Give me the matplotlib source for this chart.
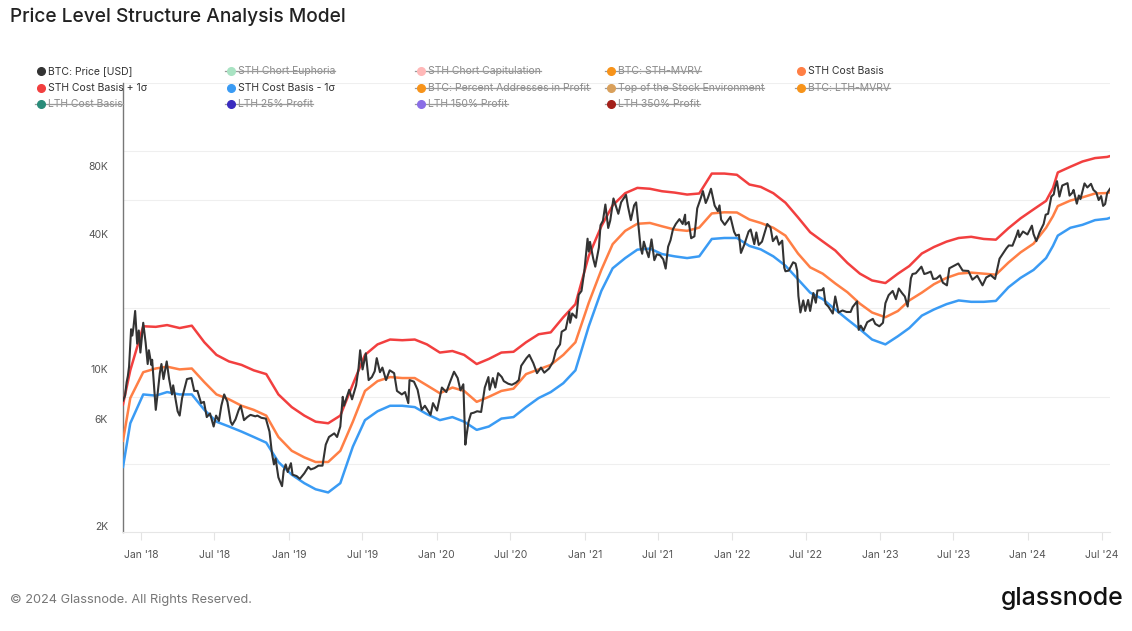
import matplotlib
matplotlib.use("Agg")
import pandas as pd
import matplotlib.pyplot as plt
import matplotlib.dates as mdates
from matplotlib.ticker import FixedLocator, NullFormatter

plt.rcParams['font.family'] = ['Inter', 'DejaVu Sans']

# BTC price
price_dates = [
    "2017-11-17", "2017-11-22", "2017-11-26", "2017-11-29", "2017-12-02", "2017-12-07", "2017-12-10",
    "2017-12-13", "2017-12-17", "2017-12-22", "2017-12-26", "2017-12-30", "2018-01-06", "2018-01-12",
    "2018-01-17", "2018-01-20", "2018-01-26", "2018-01-28", "2018-02-02", "2018-02-06", "2018-02-10",
    "2018-02-16", "2018-02-20", "2018-02-25", "2018-03-05", "2018-03-11", "2018-03-18", "2018-03-21",
    "2018-04-01", "2018-04-06", "2018-04-12", "2018-04-24", "2018-05-05", "2018-05-12", "2018-05-20",
    "2018-05-29", "2018-06-05", "2018-06-12", "2018-06-20", "2018-06-29", "2018-07-05", "2018-07-12",
    "2018-07-18", "2018-07-25", "2018-08-02", "2018-08-10", "2018-08-14", "2018-08-22", "2018-08-30",
    "2018-09-04", "2018-09-12", "2018-09-20", "2018-09-28", "2018-10-10", "2018-10-15", "2018-10-25",
    "2018-11-05", "2018-11-14", "2018-11-20", "2018-11-25", "2018-11-29", "2018-12-06", "2018-12-15",
    "2018-12-19", "2018-12-24", "2018-12-29", "2019-01-06", "2019-01-10", "2019-01-20", "2019-01-28",
    "2019-02-08", "2019-02-18", "2019-02-24", "2019-03-05", "2019-03-15", "2019-03-25", "2019-04-02",
    "2019-04-10", "2019-04-23", "2019-04-30", "2019-05-08", "2019-05-14", "2019-05-17", "2019-05-30",
    "2019-06-06", "2019-06-16", "2019-06-22", "2019-06-26", "2019-07-02", "2019-07-10", "2019-07-17",
    "2019-07-25", "2019-08-01", "2019-08-06", "2019-08-14", "2019-08-20", "2019-08-29", "2019-09-07",
    "2019-09-18", "2019-09-25", "2019-10-07", "2019-10-15", "2019-10-23", "2019-10-26", "2019-11-06",
    "2019-11-15", "2019-11-25", "2019-12-03", "2019-12-17", "2019-12-23", "2020-01-02", "2020-01-14",
    "2020-01-25", "2020-02-03", "2020-02-13", "2020-02-22", "2020-02-29", "2020-03-07", "2020-03-12",
    "2020-03-15", "2020-03-20", "2020-03-26", "2020-04-02", "2020-04-10", "2020-04-20", "2020-04-29",
    "2020-05-08", "2020-05-11", "2020-05-19", "2020-05-25", "2020-06-01", "2020-06-10", "2020-06-15",
    "2020-06-26", "2020-07-05", "2020-07-15", "2020-07-22", "2020-07-28", "2020-08-10", "2020-08-17",
    "2020-08-27", "2020-09-05", "2020-09-15", "2020-09-23", "2020-10-05", "2020-10-15", "2020-10-22",
    "2020-11-01", "2020-11-05", "2020-11-15", "2020-11-24", "2020-11-26", "2020-12-01", "2020-12-11",
    "2020-12-17", "2020-12-24", "2020-12-31", "2021-01-08", "2021-01-11", "2021-01-14", "2021-01-22",
    "2021-01-27", "2021-02-05", "2021-02-09", "2021-02-15", "2021-02-21", "2021-02-28", "2021-03-05",
    "2021-03-13", "2021-03-25", "2021-04-01", "2021-04-13", "2021-04-18", "2021-04-25", "2021-05-03",
    "2021-05-08", "2021-05-12", "2021-05-19", "2021-05-23", "2021-05-27", "2021-06-01", "2021-06-08",
    "2021-06-15", "2021-06-22", "2021-06-28", "2021-07-06", "2021-07-14", "2021-07-20", "2021-07-26",
    "2021-08-01", "2021-08-07", "2021-08-14", "2021-08-23", "2021-08-31", "2021-09-06", "2021-09-07",
    "2021-09-15", "2021-09-21", "2021-09-29", "2021-10-06", "2021-10-15", "2021-10-20", "2021-10-27",
    "2021-11-01", "2021-11-09", "2021-11-18", "2021-11-26", "2021-11-30", "2021-12-04", "2021-12-13",
    "2021-12-27", "2022-01-05", "2022-01-10", "2022-01-17", "2022-01-22", "2022-01-30", "2022-02-10",
    "2022-02-15", "2022-02-24", "2022-03-01", "2022-03-07", "2022-03-15", "2022-03-28", "2022-04-05",
    "2022-04-11", "2022-04-20", "2022-04-26", "2022-05-04", "2022-05-09", "2022-05-12", "2022-05-20",
    "2022-05-31", "2022-06-06", "2022-06-10", "2022-06-13", "2022-06-18", "2022-06-25", "2022-06-30",
    "2022-07-07", "2022-07-12", "2022-07-20", "2022-07-26", "2022-07-30", "2022-08-10", "2022-08-14",
    "2022-08-19", "2022-08-26", "2022-09-06", "2022-09-12", "2022-09-20", "2022-09-30", "2022-10-10",
    "2022-10-20", "2022-10-25", "2022-11-05", "2022-11-09", "2022-11-14", "2022-11-21", "2022-11-30",
    "2022-12-14", "2022-12-20", "2022-12-30", "2023-01-08", "2023-01-14", "2023-01-22", "2023-02-01",
    "2023-02-09", "2023-02-16", "2023-02-24", "2023-03-03", "2023-03-10", "2023-03-18", "2023-03-22",
    "2023-03-30", "2023-04-13", "2023-04-20", "2023-04-26", "2023-05-06", "2023-05-12", "2023-05-20",
    "2023-05-29", "2023-06-05", "2023-06-15", "2023-06-21", "2023-06-30", "2023-07-13", "2023-07-24",
    "2023-08-07", "2023-08-17", "2023-08-29", "2023-09-11", "2023-09-20", "2023-10-01", "2023-10-12",
    "2023-10-23", "2023-10-30", "2023-11-09", "2023-11-15", "2023-11-24", "2023-12-04", "2023-12-08",
    "2023-12-11", "2023-12-20", "2023-12-31", "2024-01-11", "2024-01-15", "2024-01-22", "2024-01-30",
    "2024-02-09", "2024-02-14", "2024-02-20", "2024-02-28", "2024-03-05", "2024-03-08", "2024-03-13",
    "2024-03-19", "2024-03-26", "2024-04-08", "2024-04-13", "2024-04-20", "2024-04-23", "2024-05-01",
    "2024-05-06", "2024-05-10", "2024-05-20", "2024-05-27", "2024-06-05", "2024-06-11", "2024-06-18",
    "2024-06-24", "2024-06-30", "2024-07-05", "2024-07-10", "2024-07-15", "2024-07-22",
]
price_values = [
    7700, 8100, 9300, 9900, 10900, 16000, 15000,
    16400, 19300, 13800, 15800, 12600, 17100, 13900,
    11200, 12900, 11100, 11700, 8800, 7000, 8100,
    10200, 11200, 9600, 11500, 9600, 8200, 9000,
    6900, 6600, 7900, 9600, 9700, 8500, 8500,
    7500, 7600, 6500, 6750, 5900, 6600, 6250,
    7300, 8200, 7600, 6200, 6000, 6350, 7000,
    7300, 6300, 6500, 6650, 6550, 6600, 6450,
    6400, 5600, 4500, 4000, 4250, 3500, 3200,
    3750, 4000, 3700, 4050, 3600, 3550, 3450,
    3650, 3900, 3800, 3850, 3950, 3950, 4900,
    5300, 5500, 5300, 5900, 8000, 7300, 8600,
    7800, 9000, 10700, 12900, 10600, 12500, 9500,
    9800, 10400, 11900, 10300, 10800, 9500, 10500,
    10200, 8500, 8200, 8400, 7500, 9500, 9350,
    8600, 7000, 7300, 6650, 7500, 6950, 8800,
    8400, 9300, 10350, 9700, 8550, 9100, 4900,
    5400, 6200, 6750, 6800, 6900, 6850, 8800,
    9800, 8600, 9700, 8800, 10200, 9800, 9400,
    9150, 9050, 9250, 9500, 11000, 11900, 12300,
    11300, 10200, 10800, 10250, 10700, 11500, 12900,
    13700, 15600, 16000, 19100, 17100, 18800, 18000,
    22800, 23700, 29000, 40500, 35500, 39200, 33000,
    30400, 37000, 46500, 48700, 57500, 45200, 48800,
    61200, 52300, 58900, 63500, 56200, 49000, 57000,
    58800, 49900, 37000, 34700, 39300, 36600, 33500,
    40200, 32500, 34500, 34200, 32800, 29800, 37300,
    39900, 44600, 47100, 49500, 47100, 51800, 46800,
    48100, 40700, 41500, 55300, 61600, 66000, 58400,
    61300, 67600, 56900, 53700, 57000, 49200, 46700,
    50700, 43500, 41800, 42200, 35000, 38000, 43600,
    44500, 38300, 43200, 38000, 39300, 47100, 45500,
    39500, 41500, 38100, 39700, 30100, 29000, 29200,
    31800, 31400, 29100, 22500, 19000, 21500, 19300,
    21600, 19300, 23200, 21000, 23800, 23900, 24400,
    20800, 20200, 18800, 22400, 19000, 19400, 19100,
    19100, 20100, 21300, 15900, 16600, 15800, 17200,
    17800, 16900, 16500, 17100, 20900, 22700, 23700,
    21800, 24300, 23200, 22400, 20200, 27000, 28200,
    28400, 30400, 28200, 28400, 28900, 26800, 26900,
    27800, 25800, 25100, 29900, 30500, 31400, 29200,
    29100, 26600, 27700, 25100, 27200, 27900, 26800,
    33000, 34500, 36700, 37800, 37700, 41900, 44100,
    41200, 43600, 42300, 46300, 42500, 39500, 43300,
    47100, 51800, 52300, 62400, 63800, 68300, 73100,
    62400, 69900, 71600, 63000, 64900, 66800, 58000,
    63100, 60800, 71400, 68500, 71100, 66800, 65100,
    60200, 62700, 56700, 57800, 64700, 67600,
]

# STH cost basis and its +/- 1 sigma bands
band_dates = [
    "2017-11-17", "2017-12-05",
    "2018-01-06", "2018-02-06", "2018-03-06", "2018-04-06", "2018-05-06", "2018-06-06",
    "2018-07-06", "2018-08-06", "2018-09-06", "2018-10-06", "2018-11-06", "2018-12-06",
    "2019-01-08", "2019-02-08", "2019-03-08", "2019-04-08", "2019-05-08", "2019-06-08",
    "2019-07-08", "2019-08-08", "2019-09-08", "2019-10-08", "2019-11-08", "2019-12-08",
    "2020-01-09", "2020-02-09", "2020-03-09", "2020-04-09", "2020-05-09", "2020-06-09",
    "2020-07-09", "2020-08-09", "2020-09-09", "2020-10-09", "2020-11-09", "2020-12-09",
    "2021-01-11", "2021-02-11", "2021-03-11", "2021-04-11", "2021-05-11", "2021-06-11",
    "2021-07-11", "2021-08-11", "2021-09-11", "2021-10-11", "2021-11-11", "2021-12-12",
    "2022-01-12", "2022-02-12", "2022-03-12", "2022-04-12", "2022-05-12", "2022-06-12",
    "2022-07-12", "2022-08-12", "2022-09-12", "2022-10-12", "2022-11-12", "2022-12-12",
    "2023-01-14", "2023-02-14", "2023-03-14", "2023-04-14", "2023-05-14", "2023-06-14",
    "2023-07-14", "2023-08-14", "2023-09-14", "2023-10-14", "2023-11-14", "2023-12-14",
    "2024-01-15", "2024-02-15", "2024-03-03", "2024-03-15", "2024-04-15", "2024-05-15",
    "2024-06-15", "2024-07-15", "2024-07-22",
]
sth_upper = [
    7400, 10500,
    16500, 16400, 16700, 16200, 16600, 14000,
    12300, 11500, 11100, 10500, 10100, 8200,
    7200, 6600, 6200, 6100, 6600, 9100,
    12300, 13700, 14400, 14300, 14400, 13700,
    12600, 12800, 12300, 11200, 11800, 12600,
    12700, 14000, 15200, 15500, 18100, 20700,
    34000, 46000, 57000, 64600, 68200, 67600,
    65900, 65000, 63700, 64400, 79000, 79000,
    78000, 70600, 68900, 64600, 58600, 50400,
    43300, 39400, 35900, 31600, 28300, 26400,
    25700, 28300, 30600, 34800, 37200, 39300,
    40800, 41300, 40400, 40100, 45100, 49900,
    54700, 59700, 68000, 79900, 84700, 89400,
    92600, 93700, 94500,
]
sth_cost = [
    5100, 7900,
    10300, 10700, 10900, 10600, 10700, 9300,
    8200, 7800, 7300, 7000, 6600, 5300,
    4600, 4300, 4100, 4100, 4600, 6200,
    8500, 9400, 9800, 9700, 9700, 9000,
    8300, 8800, 8500, 7600, 8000, 8500,
    8700, 10100, 10600, 11100, 12300, 14000,
    21000, 29400, 38300, 43900, 47200, 47600,
    46000, 44500, 43900, 45400, 52500, 53100,
    53000, 49300, 47600, 45300, 41800, 34800,
    30200, 28300, 25600, 23400, 20800, 19000,
    18100, 19300, 21500, 23300, 25400, 27100,
    28300, 28600, 28300, 28000, 31700, 35200,
    38500, 45300, 51000, 56600, 59900, 61900,
    64400, 64700, 65200,
]
sth_lower = [
    3900, 6100,
    8200, 8100, 8400, 8200, 8200, 7000,
    6200, 5900, 5600, 5300, 5000, 4100,
    3600, 3300, 3100, 3000, 3300, 4800,
    6300, 6900, 7300, 7300, 7200, 6700,
    6300, 6500, 6200, 5700, 5900, 6400,
    6500, 7200, 7900, 8400, 9200, 10500,
    16500, 23700, 29900, 33200, 36200, 36600,
    34600, 33800, 33200, 33800, 40400, 40800,
    40800, 37600, 36300, 33800, 30700, 26700,
    23300, 21800, 19600, 17700, 16000, 14400,
    13700, 14900, 16200, 18400, 19600, 20700,
    21500, 21200, 21200, 21400, 24600, 27100,
    29400, 33200, 37600, 41800, 45300, 46700,
    49000, 49700, 50200,
]

# y axis: labelled values and grid values
ytick_values = [2000, 6000, 10000, 40000, 80000]
ygrid_values = [4000, 6000, 8000, 10000, 20000, 40000, 60000, 80000, 100000, 200000]

legend_labels = [
    "BTC: Price [USD]", "STH Chort Euphoria", "STH Chort Capitulation", "BTC: STH-MVRV", "STH Cost Basis",
    "STH Cost Basis + 1σ", "STH Cost Basis - 1σ", "BTC: Percent Addresses in Profit",
    "Top of the Stock Environment", "BTC: LTH-MVRV",
    "LTH Cost Basis", "LTH 25% Profit", "LTH 150% Profit", "LTH 350% Profit",
]
legend_colors = [
    "#333333", "#a9e3c3", "#ffb8b8", "#f7931a", "#ff7f45",
    "#f23f3f", "#3a9bf4", "#f7931a", "#d9a05b", "#f7931a",
    "#2a8c7a", "#3a2cbf", "#8a6ee6", "#a3201a",
]
legend_active = [
    True, False, False, False, True,
    True, True, False, False, False,
    False, False, False, False,
]

W, H = 1132, 631
fig = plt.figure(figsize=(W / 100, H / 100), dpi=100)
ax = fig.add_axes([123 / W, 1 - 532 / H, 987 / W, 449 / H])

pdates = pd.to_datetime(price_dates)
bdates = pd.to_datetime(band_dates)

ax.plot(bdates, sth_upper, color="#f23f3f", lw=1.8, zorder=3)
ax.plot(bdates, sth_cost, color="#ff7f45", lw=1.8, zorder=3)
ax.plot(bdates, sth_lower, color="#3a9bf4", lw=1.8, zorder=3)
ax.plot(pdates, price_values, color="#333333", lw=1.5, zorder=4)

ax.set_yscale("log")
ax.set_ylim(2000, 200000)
ax.set_xlim(pdates[0], pdates[-1])

ax.yaxis.set_major_locator(FixedLocator(ytick_values))
ax.yaxis.set_major_formatter(NullFormatter())
ax.yaxis.set_minor_locator(FixedLocator(ygrid_values))
ax.yaxis.set_minor_formatter(NullFormatter())
ax.tick_params(axis="y", which="both", length=0)
ax.grid(which="minor", axis="y", color="#efefef", lw=0.8, zorder=0)
for v in ytick_values:
    ax.annotate(f"{v // 1000}K", xy=(0, v), xycoords=("axes fraction", "data"),
                xytext=(-15, 5), textcoords="offset pixels", ha="right", va="center",
                fontsize=7.5, color="#555555")

ax.xaxis.set_major_locator(mdates.MonthLocator(bymonth=[1, 7]))
ax.xaxis.set_major_formatter(mdates.DateFormatter("%b '%y"))
ax.tick_params(axis="x", which="major", length=6, width=0.8, color="#e3e3e3",
               labelsize=7.5, labelcolor="#555555", pad=7)

for s in ["top", "right"]:
    ax.spines[s].set_visible(False)
ax.spines["left"].set_color("#777777")
ax.spines["left"].set_linewidth(1.0)
ax.spines["bottom"].set_color("#e6e6e6")
ax.spines["bottom"].set_linewidth(0.8)

# overlay in pixel coordinates for title, legend and footer
ov = fig.add_axes([0, 0, 1, 1])
ov.set_xlim(0, W)
ov.set_ylim(H, 0)
ov.axis("off")
ov.patch.set_alpha(0)

ov.text(10, 17, "Price Level Structure Analysis Model", fontsize=13.8, color="#222222",
        fontweight="medium", va="center", ha="left")

row_y = [71, 88, 104]
col_x = [41, 231, 421, 611, 801]
texts = []
for i, lab in enumerate(legend_labels):
    x = col_x[i % 5]
    y = row_y[i // 5]
    ov.plot([x], [y], "o", ms=5.5, color=legend_colors[i], zorder=5)
    t = ov.text(x + 7, y, lab, fontsize=7.5, va="center", ha="left",
                color="#333333" if legend_active[i] else "#8a8a8a")
    texts.append((t, x, y, legend_active[i]))

ov.text(10, 600, "© 2024 Glassnode. All Rights Reserved.", fontsize=9.2, color="#777777",
        va="center", ha="left")
ov.text(1124, 599, "glassnode", fontsize=18, color="#111111", fontweight="medium",
        va="center", ha="right")

fig.canvas.draw()
r = fig.canvas.get_renderer()
for t, x, y, active in texts:
    if not active:
        bb = t.get_window_extent(r)
        ov.plot([x - 6, bb.x1], [y, y], color="#9a9a9a", lw=0.9, zorder=4)

fig.savefig("out.png", dpi=100)
